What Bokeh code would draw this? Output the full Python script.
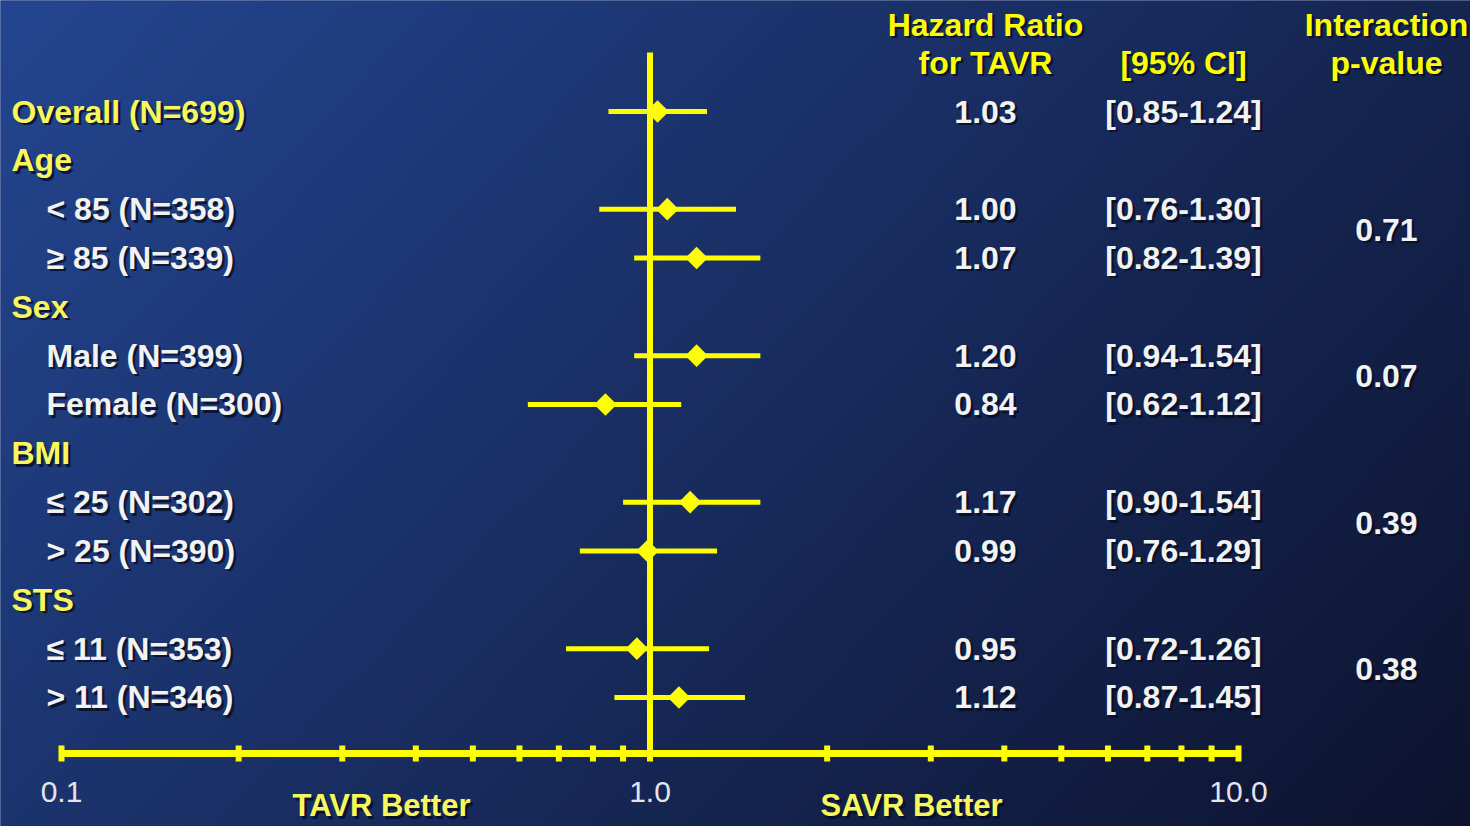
import numpy as np
from bokeh.plotting import figure
from bokeh.models import Range1d, ColumnDataSource
from bokeh.embed import file_html
from bokeh.resources import INLINE
from bokeh.core.properties import value

# ---------------- data ----------------
row_labels = ["Overall (N=699)", "Age", "< 85 (N=358)", "\u2265 85 (N=339)", "Sex",
              "Male (N=399)", "Female (N=300)", "BMI", "\u2264 25 (N=302)", "> 25 (N=390)",
              "STS", "\u2264 11 (N=353)", "> 11 (N=346)"]
row_is_heading = [True, True, False, False, True, False, False, True, False, False, True, False, False]

data_rows = [0, 2, 3, 5, 6, 8, 9, 11, 12]
hr_labels = ["1.03", "1.00", "1.07", "1.20", "0.84", "1.17", "0.99", "0.95", "1.12"]
ci_labels = ["[0.85-1.24]", "[0.76-1.30]", "[0.82-1.39]", "[0.94-1.54]", "[0.62-1.12]",
             "[0.90-1.54]", "[0.76-1.29]", "[0.72-1.26]", "[0.87-1.45]"]
# markers as drawn in the chart
hr_drawn = [1.03, 1.07, 1.20, 1.20, 0.84, 1.17, 0.99, 0.95, 1.12]
lo_drawn = [0.85, 0.82, 0.94, 0.94, 0.62, 0.90, 0.76, 0.72, 0.87]
hi_drawn = [1.25, 1.40, 1.54, 1.54, 1.13, 1.54, 1.30, 1.26, 1.45]

p_pairs = [(2, 3), (5, 6), (8, 9), (11, 12)]
p_values = ["0.71", "0.07", "0.39", "0.38"]

minor_ticks = [0.1, 0.2, 0.3, 0.4, 0.5, 0.6, 0.7, 0.8, 0.9, 1, 2, 3, 4, 5, 6, 7, 8, 9, 10]
major_ticks = [0.1, 1.0, 10.0]
major_tick_labels = ["0.1", "1.0", "10.0"]

# ---------------- layout helpers ----------------
W, H = 1470, 826
PX_DEC = 588.5      # pixels per decade
X0_PX = 61          # screen x of 0.1
ROW0 = 111          # screen y of first row
ROW_H = 48.83


def xd(px):
    return 10 ** (-1 + (px - X0_PX) / PX_DEC)


def yd(py):
    return -(py - ROW0) / ROW_H


x_lo, x_hi = xd(-2), xd(W + 2)
y_lo, y_hi = yd(H + 2), yd(-2)

p = figure(width=W, height=H, x_axis_type="log",
           x_range=Range1d(xd(0), xd(W)), y_range=Range1d(yd(H), yd(0)),
           x_axis_location=None, y_axis_location=None,
           toolbar_location=None, output_backend="svg", min_border=0)
p.outline_line_color = None
p.grid.visible = False
p.background_fill_color = "#1b2c64"
p.border_fill_color = "#1b2c64"

# ---- gradient background ----
GW, GH = 737, 415
fx = (np.arange(GW) + 0.5) / GW
fy_top = 1 - (np.arange(GH) + 0.5) / GH   # image row 0 is at the bottom
t = 0.65 * fx[None, :] + 0.35 * fy_top[:, None]
c0 = np.array([36, 70, 145])
c1 = np.array([13, 19, 46])
img = np.empty((GH, GW), dtype=np.uint32)
view = img.view(dtype=np.uint8).reshape((GH, GW, 4))
for k in range(3):
    view[:, :, k] = np.clip(c0[k] + (c1[k] - c0[k]) * t, 0, 255).astype(np.uint8)
view[:, :, 3] = 255
p.image_rgba(image=[img], x=x_lo, y=y_lo, dw=x_hi - x_lo, dh=y_hi - y_lo)

FONT = value("Liberation Sans")
YEL = "#FFFF00"
YEL_SOFT = "#F8F85E"
WHITE = "#F2F2F2"
SHADOW = "#060b1e"


def draw_text(xs, ys, texts, color, align="left", baseline="middle", size="32px",
              style="bold", shadow=True):
    src = ColumnDataSource(dict(x=list(xs), y=list(ys), t=list(texts)))
    if shadow:
        p.text(x="x", y="y", text="t", source=src, text_color=SHADOW, text_alpha=0.75,
               text_font=FONT, text_font_size=size, text_font_style=style,
               text_align=align, text_baseline=baseline, x_offset=2.5, y_offset=2.5)
    p.text(x="x", y="y", text="t", source=src, text_color=color,
           text_font=FONT, text_font_size=size, text_font_style=style,
           text_align=align, text_baseline=baseline)


# ---- row labels ----
rows_y = [-i for i in range(len(row_labels))]
head_idx = [i for i, h in enumerate(row_is_heading) if h]
sub_idx = [i for i, h in enumerate(row_is_heading) if not h]
draw_text([xd(11)] * len(head_idx), [rows_y[i] for i in head_idx],
          [row_labels[i] for i in head_idx], YEL_SOFT)
draw_text([xd(46)] * len(sub_idx), [rows_y[i] for i in sub_idx],
          [row_labels[i] for i in sub_idx], WHITE)

# ---- column headers ----
draw_text([xd(985), xd(985), xd(1183), xd(1386), xd(1386)],
          [yd(24), yd(62), yd(62), yd(24), yd(62)],
          ["Hazard Ratio", "for TAVR", "[95% CI]", "Interaction", "p-value"],
          YEL, align="center")

# ---- value columns ----
dy = [-r for r in data_rows]
draw_text([xd(985)] * len(dy), dy, hr_labels, WHITE, align="center")
draw_text([xd(1183)] * len(dy), dy, ci_labels, WHITE, align="center")
py = [-(a + b) / 2 + 0.08 for a, b in p_pairs]
draw_text([xd(1386)] * len(py), py, p_values, WHITE, align="center")

# ---- reference line at 1 ----
p.segment(x0=[1.0], y0=[yd(52)], x1=[1.0], y1=[yd(760)], line_color=YEL, line_width=6)

# ---- axis ----
p.segment(x0=[minor_ticks[0]], y0=[yd(753)], x1=[minor_ticks[-1]], y1=[yd(753)],
          line_color=YEL, line_width=7)
p.segment(x0=minor_ticks, y0=[yd(745)] * len(minor_ticks), x1=minor_ticks,
          y1=[yd(761)] * len(minor_ticks), line_color=YEL, line_width=6)
draw_text(major_ticks, [yd(791)] * 3, major_tick_labels, "#E4E4EC", align="center",
          size="30px", style="normal", shadow=False)
draw_text([xd(381), xd(911)], [yd(805)] * 2, ["TAVR Better", "SAVR Better"], YEL_SOFT,
          align="center", size="31px")

# ---- CI lines and diamonds ----
src = ColumnDataSource(dict(y=dy, hr=hr_drawn, lo=lo_drawn, hi=hi_drawn))
p.segment(x0="lo", y0="y", x1="hi", y1="y", source=src, line_color=YEL,
          line_width=5, line_cap="butt")
p.scatter(x="hr", y="y", source=src, marker="square", angle=np.pi / 4, size=16,
          fill_color=YEL, line_color=None)

open("out.html", "w").write(file_html(p, INLINE))
